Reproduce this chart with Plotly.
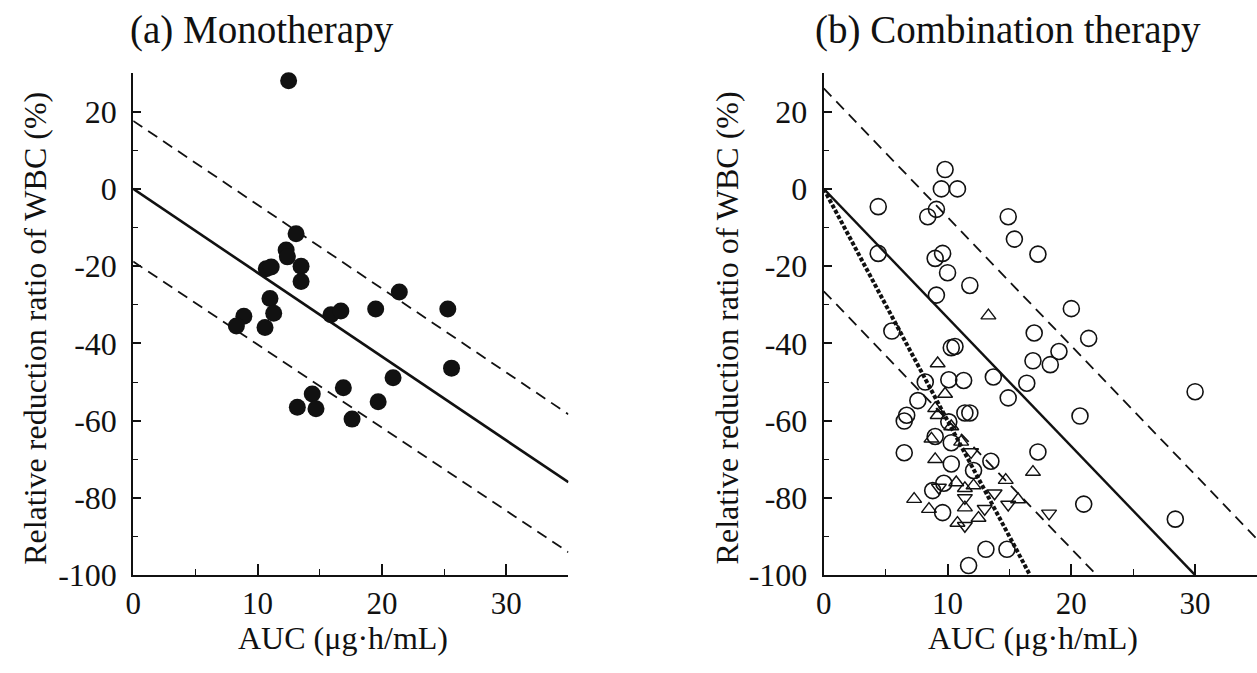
import numpy as np
import plotly.graph_objects as go

# ---------------- data ----------------
# (a) Monotherapy
mono_auc = [12.5, 13.1, 12.3, 12.4, 10.7, 11.1, 13.5, 13.5, 11.0, 11.3, 8.9, 8.3, 10.6,
            15.9, 16.7, 19.5, 21.4, 25.3, 25.6, 20.9, 16.9, 14.4, 19.7, 13.2, 14.7, 17.6]
mono_wbc = [28.0, -11.6, -15.8, -17.6, -20.7, -20.2, -20.0, -24.0, -28.4, -32.2, -33.0, -35.5, -35.9,
            -32.6, -31.6, -31.1, -26.7, -31.1, -46.4, -48.9, -51.5, -53.1, -55.1, -56.5, -56.9, -59.6]

# (b) Combination therapy
circ_auc = [9.8, 9.5, 10.8, 4.4, 9.1, 8.4, 14.9, 15.4, 4.4, 9.6, 9.0, 17.3, 10.0, 11.8, 9.1,
            20.0, 5.5, 17.0, 21.4, 19.0, 16.9, 18.3, 13.7, 16.4, 14.9, 30.0, 20.7, 17.3, 21.0,
            28.4, 13.1, 14.8, 11.7, 10.3, 10.6, 8.2, 10.1, 11.3, 7.6, 6.7, 6.5, 11.4, 11.8, 10.1,
            9.0, 10.3, 6.5, 10.3, 13.5, 12.1, 9.7, 8.8, 9.6]
circ_wbc = [5.0, 0.0, 0.0, -4.6, -5.3, -7.2, -7.2, -13.0, -16.7, -16.7, -18.0, -16.9, -21.7, -25.0, -27.5,
            -31.0, -36.8, -37.3, -38.7, -42.1, -44.5, -45.5, -48.7, -50.3, -54.1, -52.5, -58.8, -68.1, -81.6,
            -85.5, -93.3, -93.3, -97.5, -41.1, -40.8, -50.0, -49.4, -49.6, -54.8, -58.6, -60.1, -58.0, -58.0, -60.3,
            -64.1, -65.7, -68.3, -71.2, -70.5, -72.9, -76.2, -78.1, -83.8]

tup_auc = [13.3, 16.9, 9.2, 9.8, 9.0, 9.2, 10.3, 8.7, 11.1, 9.0, 14.7, 10.7, 11.4, 12.1,
           15.7, 7.3, 8.5, 11.4, 12.5, 10.8]
tup_wbc = [-32.8, -73.3, -45.2, -53.1, -56.8, -58.6, -61.5, -64.7, -65.5, -70.0, -75.4, -76.0, -77.5, -76.8,
           -80.4, -80.3, -82.9, -82.5, -85.2, -86.5]

tdn_auc = [18.2, 11.9, 9.3, 11.4, 13.8, 14.9, 13.0, 11.4]
tdn_wbc = [-84.0, -68.1, -77.3, -80.0, -78.8, -81.7, -82.8, -87.2]

# regression / prediction lines: (intercept, slope)
mono_lines = {"fit": (0.0, -2.17), "upper": (17.6, -2.17), "lower": (-18.8, -2.15)}
comb_lines = {"fit": (0.0, -3.333), "upper": (26.0, -3.333), "lower": (-26.5, -3.333), "dot": (0.0, -6.0)}

x_ticks = [0, 10, 20, 30]
x_ticktext = ["0", "10", "20", "30"]
y_ticks = [-100, -80, -60, -40, -20, 0, 20]
y_ticktext = ["-100", "-80", "-60", "-40", "-20", "0", "20"]

FONT = "Liberation Serif, Times New Roman, serif"
INK = "#111111"

fig = go.Figure()

xs = np.linspace(0, 35, 141)


def line_trace(params, xa, ya, dash, width):
    b, m = params
    y = b + m * xs
    keep = y >= -100 - 1e-9
    xx = list(xs[keep])
    yy = list(y[keep])
    if not keep.all():
        xc = (-100 - b) / m
        xx.append(xc)
        yy.append(-100)
    return go.Scatter(x=xx, y=yy, mode="lines", xaxis=xa, yaxis=ya, showlegend=False,
                      hoverinfo="skip", line=dict(color=INK, width=width, dash=dash))


# left panel
fig.add_trace(line_trace(mono_lines["fit"], "x", "y", "solid", 2.6))
fig.add_trace(line_trace(mono_lines["upper"], "x", "y", "11px,7px", 1.8))
fig.add_trace(line_trace(mono_lines["lower"], "x", "y", "11px,7px", 1.8))
fig.add_trace(go.Scatter(x=mono_auc, y=mono_wbc, mode="markers", xaxis="x", yaxis="y",
                         showlegend=False, cliponaxis=False,
                         marker=dict(symbol="circle", size=17, color=INK, line=dict(width=0))))

# right panel
fig.add_trace(line_trace(comb_lines["fit"], "x2", "y2", "solid", 2.4))
fig.add_trace(line_trace(comb_lines["upper"], "x2", "y2", "11px,7px", 1.8))
fig.add_trace(line_trace(comb_lines["lower"], "x2", "y2", "11px,7px", 1.8))
fig.add_trace(line_trace(comb_lines["dot"], "x2", "y2", "4px,2px", 4))
fig.add_trace(go.Scatter(x=circ_auc, y=circ_wbc, mode="markers", xaxis="x2", yaxis="y2",
                         showlegend=False, cliponaxis=False,
                         marker=dict(symbol="circle-open", size=16, color=INK, line=dict(width=1.6))))
fig.add_trace(go.Scatter(x=tup_auc, y=tup_wbc, mode="markers", xaxis="x2", yaxis="y2",
                         showlegend=False, cliponaxis=False,
                         marker=dict(symbol="triangle-up-open", size=13, color=INK, line=dict(width=1.4))))
fig.add_trace(go.Scatter(x=tdn_auc, y=tdn_wbc, mode="markers", xaxis="x2", yaxis="y2",
                         showlegend=False, cliponaxis=False,
                         marker=dict(symbol="triangle-down-open", size=13, color=INK, line=dict(width=1.4))))

W, H = 1257, 673


def px_x(p):
    return p / W


def px_y(p):
    return 1 - p / H


ydom = [px_y(591), px_y(75)]

xaxis_common = dict(range=[0, 35], tickmode="array", tickvals=x_ticks, ticktext=x_ticktext,
                    showline=True, linewidth=2, linecolor=INK,
                    ticks="inside", ticklen=11, tickwidth=1.6, tickcolor=INK,
                    minor=dict(ticks="inside", ticklen=6, tickwidth=1.4, tickcolor=INK, dtick=5, tick0=0),
                    showgrid=False, zeroline=False, ticklabelstandoff=0,
                    tickfont=dict(family=FONT, size=31, color=INK), fixedrange=True)
yaxis_common = dict(range=[-100, 30], tickmode="array", tickvals=y_ticks, ticktext=y_ticktext,
                    showline=True, linewidth=2, linecolor=INK,
                    ticks="inside", ticklen=8, tickwidth=1.6, tickcolor=INK,
                    minor=dict(ticks="inside", ticklen=5, tickwidth=1.4, tickcolor=INK, dtick=10, tick0=0),
                    showgrid=False, zeroline=False, ticklabelstandoff=8,
                    tickfont=dict(family=FONT, size=32, color=INK), fixedrange=True)

fig.update_layout(
    width=W, height=H,
    margin=dict(l=0, r=0, t=0, b=0),
    paper_bgcolor="white", plot_bgcolor="white",
    xaxis=dict(domain=[px_x(126), px_x(564)], anchor="y", **xaxis_common),
    yaxis=dict(domain=ydom, anchor="x", **yaxis_common),
    xaxis2=dict(domain=[px_x(821), 1.0], anchor="y2", **xaxis_common),
    yaxis2=dict(domain=ydom, anchor="x2", **yaxis_common),
    showlegend=False,
)

ann_font_title = dict(family=FONT, size=39, color=INK)
ann_font_axis = dict(family=FONT, size=32, color=INK)
annotations = [
    dict(text="(a) Monotherapy", x=px_x(121), y=px_y(31), xanchor="left", yanchor="middle",
         font=ann_font_title),
    dict(text="(b) Combination therapy", x=px_x(810), y=px_y(31), xanchor="left", yanchor="middle",
         font=ann_font_title),
    dict(text="AUC (μg·h/mL)", x=px_x(337), y=px_y(656), xanchor="center", yanchor="middle",
         font=ann_font_axis),
    dict(text="AUC (μg·h/mL)", x=px_x(1032), y=px_y(656), xanchor="center", yanchor="middle",
         font=ann_font_axis),
    dict(text="Relative reduction ratio of WBC (%)", x=px_x(27), y=px_y(337), textangle=-90,
         xanchor="center", yanchor="middle", font=ann_font_axis),
    dict(text="Relative reduction ratio of WBC (%)", x=px_x(724), y=px_y(337), textangle=-90,
         xanchor="center", yanchor="middle", font=ann_font_axis),
]
for a in annotations:
    a.update(xref="paper", yref="paper", showarrow=False)
fig.update_layout(annotations=annotations)

fig.write_html(
    "out.html",
    config={"displayModeBar": False},
    post_script="document.body.style.margin='0';document.body.style.overflow='hidden';",
)
